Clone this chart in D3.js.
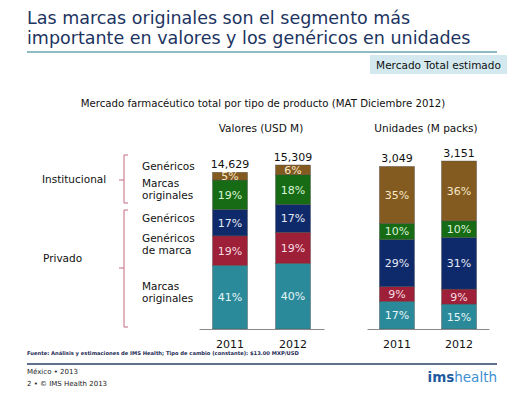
<!DOCTYPE html>
<html><head><meta charset="utf-8">
<script src="https://cdn.jsdelivr.net/npm/d3@7"></script>
<style>
html,body{margin:0;padding:0;background:#fff;}
svg{display:block;font-family:"DejaVu Sans",Verdana,sans-serif;}
</style></head>
<body>
<svg id="c" width="527" height="396"></svg>
<script>
// ---- data ----
const years = ["2011", "2012"];
const segments = ["Marcas originales (Privado)", "Genéricos de marca", "Genéricos (Privado)", "Marcas originales (Institucional)", "Genéricos (Institucional)"];
const valoresTotals = [14629, 15309];
const valoresPct = {
  "2011": [41, 19, 17, 19, 5],
  "2012": [40, 19, 17, 18, 6]
};
const unidadesTotals = [3049, 3151];
const unidadesPct = {
  "2011": [17, 9, 29, 10, 35],
  "2012": [15, 9, 31, 10, 36]
};
const totalLabels = {valores: ["14,629", "15,309"], unidades: ["3,049", "3,151"]};

const colors = ["#2b8a9a", "#9e2038", "#0f2a6a", "#166b14", "#835a1f"];
const textColors = ["#e6f6f8", "#f6dce1", "#e3e9f6", "#dcf3d8", "#f6e8c8"];

const svg = d3.select("#c");

// ---- title ----
const title = svg.append("g").attr("fill", "#1c3461").style("font-size", "17.5px");
title.append("text").attr("x", 27).attr("y", 24).text("Las marcas originales son el segmento más");
title.append("text").attr("x", 27).attr("y", 44).text("importante en valores y los genéricos en unidades");
svg.append("line").attr("x1", 27).attr("x2", 497).attr("y1", 52).attr("y2", 52)
  .attr("stroke", "#8fbcc4").attr("stroke-width", 2);

svg.append("rect").attr("x", 370).attr("y", 55).attr("width", 137).attr("height", 19).attr("fill", "#d3e9ef");
svg.append("text").attr("x", 438.5).attr("y", 68.5).attr("text-anchor", "middle")
  .style("font-size", "10.5px").attr("fill", "#111").text("Mercado Total estimado");

svg.append("text").attr("x", 263).attr("y", 107).attr("text-anchor", "middle")
  .style("font-size", "10.2px").attr("fill", "#111")
  .text("Mercado farmacéutico total por tipo de producto (MAT Diciembre 2012)");

// ---- panels ----
function panel(cfg) {
  const x = d3.scaleBand().domain(years).range(cfg.xr).paddingInner(cfg.pi).paddingOuter(cfg.po);
  const y = d3.scaleLinear().domain([0, d3.max(cfg.totals)]).range([329, cfg.topPx]);
  const rows = years.map((yr, i) => {
    const pct = cfg.pct[yr];
    const s = d3.sum(pct);
    const row = {year: yr};
    segments.forEach((k, j) => row[k] = pct[j] / s * cfg.totals[i]);
    return row;
  });
  const stack = d3.stack().keys(segments)(rows);
  const g = svg.append("g");
  stack.forEach((layer, j) => {
    layer.forEach((d, i) => {
      const yr = years[i];
      g.append("rect").attr("x", x(yr)).attr("width", x.bandwidth())
        .attr("y", y(d[1])).attr("height", y(d[0]) - y(d[1]))
        .attr("fill", colors[j]).attr("stroke", "#4a4a4a").attr("stroke-width", 0.4);
      g.append("text").attr("x", x(yr) + x.bandwidth() / 2)
        .attr("y", (y(d[0]) + y(d[1])) / 2 + 4)
        .attr("text-anchor", "middle").style("font-size", "11px")
        .attr("fill", textColors[j]).text(cfg.pct[yr][j] + "%");
    });
  });
  years.forEach((yr, i) => {
    g.append("text").attr("x", x(yr) + x.bandwidth() / 2).attr("y", y(cfg.totals[i]) - 4)
      .attr("text-anchor", "middle").style("font-size", "11px").attr("fill", "#111")
      .text(cfg.labels[i]);
  });
  const ax = d3.axisBottom(x).tickSize(0).tickPadding(11);
  const axg = g.append("g").attr("transform", "translate(0,329)").call(ax);
  axg.select(".domain").attr("stroke", "#8a8a8a").attr("stroke-width", 1.2);
  axg.selectAll("text").style("font-size", "11px").attr("fill", "#111")
    .style("font-family", "DejaVu Sans, Verdana, sans-serif");
  g.append("text").attr("x", cfg.titleX).attr("y", 132).attr("text-anchor", "middle")
    .style("font-size", "10.5px").attr("fill", "#111").text(cfg.title);
}

panel({xr: [199, 324], pi: 0.444, po: 0.214, totals: valoresTotals, pct: valoresPct, topPx: 165,
  labels: totalLabels.valores, title: "Valores (USD M)", titleX: 261});
panel({xr: [367, 489], pi: 0.435, po: 0.2, totals: unidadesTotals, pct: unidadesPct, topPx: 161,
  labels: totalLabels.unidades, title: "Unidades (M packs)", titleX: 426});

// ---- left labels & brackets ----
const lab = svg.append("g").style("font-size", "10.5px").attr("fill", "#111");
lab.append("text").attr("x", 42).attr("y", 183).text("Institucional");
lab.append("text").attr("x", 43).attr("y", 262).text("Privado");
const segLabels = [
  {t: "Genéricos", y: 170}, {t: "Marcas", y: 187}, {t: "originales", y: 199},
  {t: "Genéricos", y: 222}, {t: "Genéricos", y: 242}, {t: "de marca", y: 254},
  {t: "Marcas", y: 290}, {t: "originales", y: 302}
];
segLabels.forEach(d => lab.append("text").attr("x", 142).attr("y", d.y).text(d.t));

function bracket(y0, y1, ym) {
  const p = `M128,${y0} L124,${y0} L124,${y1} L128,${y1} M124,${ym} L119,${ym}`;
  svg.append("path").attr("d", p).attr("fill", "none").attr("stroke", "#c46a82").attr("stroke-width", 1);
}
bracket(155, 203, 180);
bracket(210, 327, 268);

// ---- footer ----
svg.append("text").attr("x", 27).attr("y", 355).style("font-size", "5.2px").style("font-weight", "bold")
  .attr("fill", "#1c2a55")
  .text("Fuente: Análisis y estimaciones de IMS Health; Tipo de cambio (constante): $13.00 MXP/USD");
svg.append("line").attr("x1", 27).attr("x2", 497).attr("y1", 364).attr("y2", 364)
  .attr("stroke", "#2a3f66").attr("stroke-width", 1.5);
svg.append("text").attr("x", 27).attr("y", 374).style("font-size", "7px").attr("fill", "#222").text("México • 2013");
svg.append("text").attr("x", 27).attr("y", 386).style("font-size", "7px").attr("fill", "#222").text("2 • © IMS Health 2013");
const logo = svg.append("text").attr("x", 497).attr("y", 382).attr("text-anchor", "end").style("font-size", "13.5px");
logo.append("tspan").attr("fill", "#1d5aa0").style("font-weight", "bold").text("ims");
logo.append("tspan").attr("fill", "#3d8fd0").text("health");
</script>
</body></html>
